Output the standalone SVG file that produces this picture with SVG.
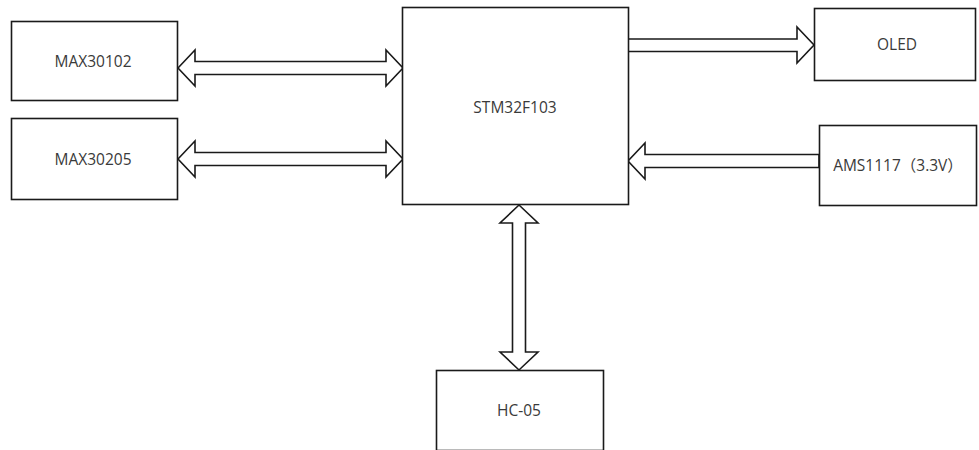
<svg xmlns="http://www.w3.org/2000/svg" width="979" height="450" viewBox="0 0 979 450">
<style>
.box{fill:#fff;stroke:#1a1a1a;stroke-width:1.6}
.arr{fill:#fff;stroke:#1a1a1a;stroke-width:1.6;stroke-linejoin:miter}
text{font-family:"Open Sans","Noto Sans","Noto Sans CJK SC",sans-serif;font-size:15.5px;fill:#3a3a3a;text-anchor:middle;dominant-baseline:central}
</style>
<rect width="979" height="450" fill="#fff"/>
<g id="connectors">
<polygon class="arr" points="178,68 195,50 195,61.5 386,61.5 386,50 403,68 386,86 386,74.5 195,74.5 195,86"/>
<polygon class="arr" points="178,159 195,141 195,152.5 386,152.5 386,141 403,159 386,177 386,165.5 195,165.5 195,177"/>
<polygon class="arr" points="628,39 797,39 797,27 814,45 797,63 797,51.5 628,51.5"/>
<polygon class="arr" points="819,154.5 645,154.5 645,143 628,161 645,179 645,167.5 819,167.5"/>
<polygon class="arr" points="519,205 538,223 525.5,223 525.5,352 538,352 519,370 500,352 512.5,352 512.5,223 500,223"/>
</g>
<g id="max30102"><rect class="box" x="11.5" y="21.5" width="166" height="79"/><text x="93" y="61">MAX30102</text></g>
<g id="max30205"><rect class="box" x="11.5" y="118.5" width="166" height="81"/><text x="93" y="159">MAX30205</text></g>
<g id="stm32"><rect class="box" x="402.5" y="7.5" width="226" height="197"/><text x="515" y="107">STM32F103</text></g>
<g id="oled"><rect class="box" x="814.5" y="8.5" width="161" height="72"/><text x="897" y="44">OLED</text></g>
<g id="ams1117"><rect class="box" x="819.5" y="125.5" width="157" height="80"/><text x="898" y="165">AMS1117（3.3V）</text></g>
<g id="hc05"><rect class="box" x="436.5" y="370.5" width="167" height="80"/><text x="519" y="410">HC-05</text></g>
</svg>
